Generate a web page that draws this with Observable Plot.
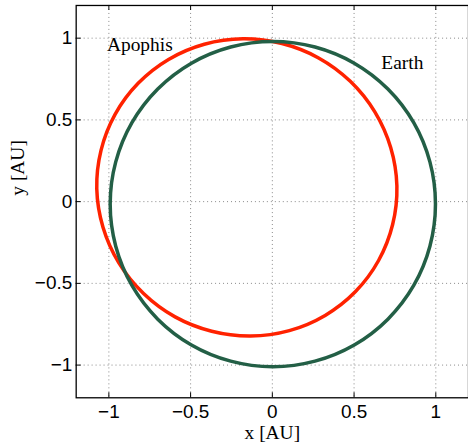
<!DOCTYPE html>
<html><head><meta charset="utf-8">
<script src="https://cdn.jsdelivr.net/npm/d3@7"></script>
<script src="https://cdn.jsdelivr.net/npm/@observablehq/plot@0.6"></script>
<style>
html,body{margin:0;padding:0;background:#fff;overflow:hidden;}
</style></head><body><div id="chart"></div>
<script>
// Apophis orbit, points (AU)
const apophisX = [-0.962, -1.048, -1.074, -1.036, -0.939, -0.788, -0.595, -0.371, -0.133, 0.104, 0.323, 0.509, 0.650, 0.736, 0.762, 0.724, 0.627, 0.477, 0.283, 0.059, -0.179, -0.416, -0.635, -0.821];
const apophisY = [0.534, 0.314, 0.078, -0.157, -0.375, -0.562, -0.705, -0.793, -0.822, -0.789, -0.696, -0.550, -0.360, -0.140, 0.096, 0.331, 0.549, 0.736, 0.879, 0.967, 0.996, 0.963, 0.870, 0.724];
// Earth orbit, points (AU)
const earthX = [0.998, 0.964, 0.865, 0.707, 0.501, 0.261, 0.003, -0.255, -0.495, -0.701, -0.859, -0.958, -0.992, -0.958, -0.859, -0.701, -0.495, -0.255, 0.003, 0.261, 0.501, 0.707, 0.865, 0.964];
const earthY = [-0.015, 0.243, 0.483, 0.689, 0.847, 0.946, 0.980, 0.946, 0.847, 0.689, 0.483, 0.243, -0.015, -0.273, -0.513, -0.719, -0.877, -0.976, -1.010, -0.976, -0.877, -0.719, -0.513, -0.273];
const xTicks = [-1, -0.5, 0, 0.5, 1];
const xTickLabels = ["\u22121", "\u22120.5", "0", "0.5", "1"];
const yTicks = [-1, -0.5, 0, 0.5, 1];
const yTickLabels = ["\u22121", "\u22120.5", "0", "0.5", "1"];
const orbitNames = ["Apophis", "Earth"];
const nameX = [-1.012, 0.667];
const nameY = [0.921, 0.811];
const xLabel = "x [AU]";
const yLabel = "y [AU]";

const apophis = apophisX.map((x, i) => ({x, y: apophisY[i]}));
const earth = earthX.map((x, i) => ({x, y: earthY[i]}));
const names = orbitNames.map((t, i) => ({t, x: nameX[i], y: nameY[i]}));
const serif = "'Liberation Serif', 'Times New Roman', serif";

const plot = Plot.plot({
  width: 470, height: 448,
  marginLeft: 76, marginRight: 0, marginTop: 5, marginBottom: 49,
  x: {domain: [-1.2, 1.2]},
  y: {domain: [-1.2, 1.2]},
  style: {fontFamily: "'Liberation Sans', Arial, sans-serif", fontSize: "19px", background: "#fff", color: "#000"},
  marks: [
    Plot.gridX(xTicks, {stroke: "#888", strokeOpacity: 1, strokeDasharray: "1,3"}),
    Plot.gridY(yTicks, {stroke: "#888", strokeOpacity: 1, strokeDasharray: "1,3"}),
    Plot.line(apophis, {x: "x", y: "y", curve: "catmull-rom-closed", stroke: "#ff2200", strokeWidth: 3.5}),
    Plot.line(earth, {x: "x", y: "y", curve: "catmull-rom-closed", stroke: "#235f46", strokeWidth: 3.5}),
    Plot.tickX(xTicks, {x: d => d, insetTop: 389, stroke: "#000"}),
    Plot.tickX(xTicks, {x: d => d, insetBottom: 389, stroke: "#000"}),
    Plot.tickY(yTicks, {y: d => d, insetRight: 389, stroke: "#000"}),
    Plot.frame({stroke: "#000", strokeWidth: 1.3}),
    Plot.axisX(xTicks, {tickSize: 0, tickPadding: 7, label: null, tickFormat: (d, i) => xTickLabels[i]}),
    Plot.axisY(yTicks, {tickSize: 0, tickPadding: 4, label: null, tickFormat: (d, i) => yTickLabels[i]}),
    Plot.text(names, {x: "x", y: "y", text: "t", textAnchor: "start", lineAnchor: "bottom", fontFamily: serif, fontSize: 19.5, fill: "#000"}),
    Plot.text([xLabel], {frameAnchor: "bottom", text: d => d, dy: 41, lineAnchor: "bottom", fontFamily: serif, fontSize: 19.5, fill: "#000"}),
    Plot.text([yLabel], {frameAnchor: "left", text: d => d, dx: -52, dy: -6, rotate: -90, lineAnchor: "bottom", fontFamily: serif, fontSize: 19.5, fill: "#000"})
  ]
});
document.getElementById("chart").append(plot);
</script>
</body></html>
